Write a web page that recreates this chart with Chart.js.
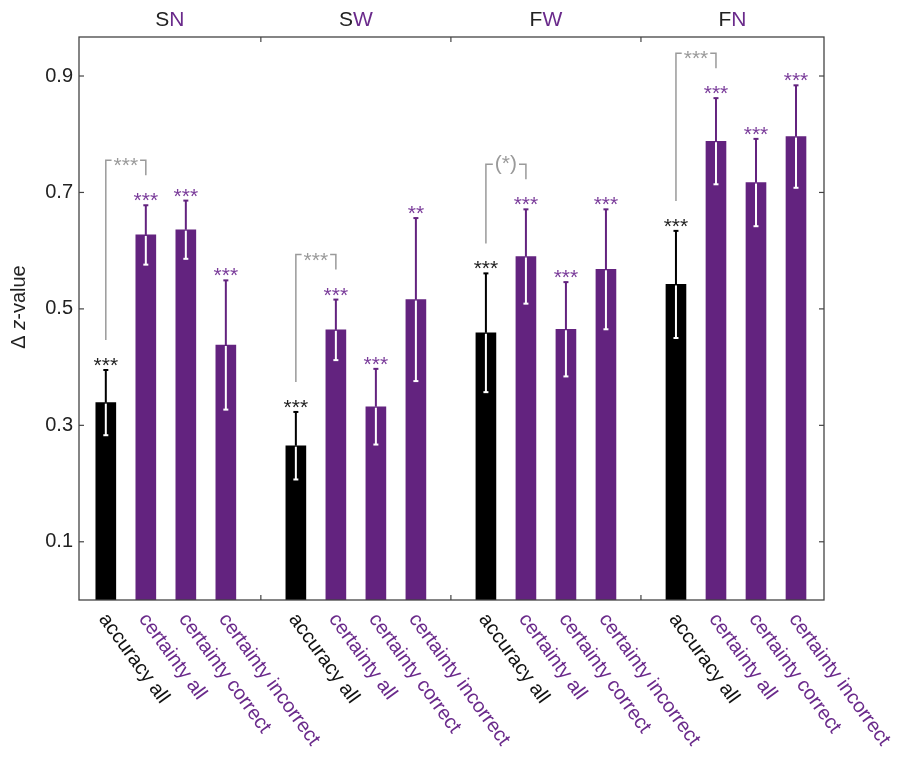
<!DOCTYPE html>
<html>
<head>
<meta charset="utf-8">
<script src="https://cdn.jsdelivr.net/npm/chart.js@4.4.1/dist/chart.umd.min.js"></script>
<style>
  html, body { margin: 0; padding: 0; background: #fff; }
  #wrap { width: 901px; height: 758px; }
</style>
</head>
<body>
<div id="wrap"><canvas id="chart"></canvas></div>
<script>
const groups = ["SN", "SW", "FW", "FN"];
const conditions = ["accuracy all", "certainty all", "certainty correct", "certainty incorrect"];

// mean Δ z-value per group (SN, SW, FW, FN)
const accuracyAll = [0.339, 0.265, 0.459, 0.542];
const certaintyAll = [0.627, 0.464, 0.590, 0.788];
const certaintyCorrect = [0.636, 0.332, 0.465, 0.717];
const certaintyIncorrect = [0.438, 0.516, 0.568, 0.796];

// error bar half widths
const accuracyAllErr = [0.056, 0.058, 0.102, 0.092];
const certaintyAllErr = [0.051, 0.052, 0.081, 0.074];
const certaintyCorrectErr = [0.050, 0.065, 0.081, 0.075];
const certaintyIncorrectErr = [0.111, 0.140, 0.103, 0.088];

// significance marks
const accuracyAllStars = ["***", "***", "***", "***"];
const certaintyAllStars = ["***", "***", "***", "***"];
const certaintyCorrectStars = ["***", "***", "***", "***"];
const certaintyIncorrectStars = ["***", "**", "***", "***"];
const bracketLabels = ["***", "***", "(*)", "***"];

const yTicks = [0.1, 0.3, 0.5, 0.7, 0.9];

const BLACK = "#000000";
const PURPLE = "#63237f";
const LABEL_PURPLE = "#6a2a8b";
const GRAY = "#9a9a9a";
const AXIS = "#444444";
const FONT = "'Liberation Sans', Arial, sans-serif";
const GROUP_STEP = 4.75;

const means = [accuracyAll, certaintyAll, certaintyCorrect, certaintyIncorrect];
const errs = [accuracyAllErr, certaintyAllErr, certaintyCorrectErr, certaintyIncorrectErr];
const stars = [accuracyAllStars, certaintyAllStars, certaintyCorrectStars, certaintyIncorrectStars];

const bars = [];
groups.forEach((g, gi) => {
  conditions.forEach((c, ci) => {
    bars.push({ x: gi * GROUP_STEP + ci, y: means[ci][gi], err: errs[ci][gi], star: stars[ci][gi], cond: ci, group: gi });
  });
});

function line(ctx, x1, y1, x2, y2) {
  ctx.beginPath();
  ctx.moveTo(x1, y1);
  ctx.lineTo(x2, y2);
  ctx.stroke();
}

const annotations = {
  id: "annotations",
  afterDatasetsDraw(chart) {
    const ctx = chart.ctx;
    const xs = chart.scales.x;
    const ys = chart.scales.y;
    const area = chart.chartArea;
    ctx.save();

    // error bars + stars
    bars.forEach((b) => {
      const px = xs.getPixelForValue(b.x);
      const top = ys.getPixelForValue(b.y + b.err);
      const mid = ys.getPixelForValue(b.y);
      const bot = ys.getPixelForValue(b.y - b.err);
      const col = b.cond === 0 ? BLACK : PURPLE;
      ctx.lineWidth = 2;
      ctx.strokeStyle = col;
      line(ctx, px, top, px, mid);
      line(ctx, px - 2.5, top, px + 2.5, top);
      ctx.strokeStyle = "#ffffff";
      line(ctx, px, mid + 1, px, bot);
      line(ctx, px - 2.5, bot, px + 2.5, bot);

      ctx.fillStyle = b.cond === 0 ? "#222" : "#7a3c9a";
      ctx.font = `21px ${FONT}`;
      ctx.textAlign = "center";
      ctx.textBaseline = "alphabetic";
      ctx.fillText(b.star, px, top + 2);
    });

    // brackets between accuracy all and certainty all
    groups.forEach((g, gi) => {
      const acc = bars[gi * 4];
      const cer = bars[gi * 4 + 1];
      const x1 = xs.getPixelForValue(acc.x);
      const x2 = xs.getPixelForValue(cer.x);
      const yAcc = ys.getPixelForValue(acc.y + acc.err) - 30;
      const yTop = ys.getPixelForValue(cer.y + cer.err) - 45;
      ctx.strokeStyle = GRAY;
      ctx.lineWidth = 1.5;
      ctx.beginPath();
      ctx.moveTo(x1, yAcc);
      ctx.lineTo(x1, yTop);
      ctx.lineTo(x2, yTop);
      ctx.lineTo(x2, yTop + 15);
      ctx.stroke();
      ctx.font = `21px ${FONT}`;
      const label = bracketLabels[gi];
      const w = ctx.measureText(label).width;
      const cx = (x1 + x2) / 2;
      ctx.fillStyle = "#ffffff";
      ctx.fillRect(cx - w / 2 - 2, yTop - 3, w + 4, 6);
      ctx.fillStyle = GRAY;
      ctx.textAlign = "center";
      ctx.textBaseline = "alphabetic";
      ctx.fillText(label, cx, yTop + (label === "(*)" ? 6 : 12));
    });

    // frame
    ctx.strokeStyle = AXIS;
    ctx.lineWidth = 1.3;
    ctx.strokeRect(area.left, area.top, area.right - area.left, area.bottom - area.top);

    // inward ticks
    ctx.lineWidth = 1.2;
    yTicks.forEach((v) => {
      const py = ys.getPixelForValue(v);
      line(ctx, area.left, py, area.left + 5, py);
      line(ctx, area.right, py, area.right - 5, py);
    });
    for (let gi = 1; gi < groups.length; gi++) {
      const px = xs.getPixelForValue(gi * GROUP_STEP - (GROUP_STEP - 3) / 2);
      line(ctx, px, area.top, px, area.top + 5);
      line(ctx, px, area.bottom, px, area.bottom - 5);
    }

    // group headers
    ctx.font = `21px ${FONT}`;
    ctx.textBaseline = "middle";
    ctx.textAlign = "left";
    groups.forEach((g, gi) => {
      const left = xs.getPixelForValue(gi * GROUP_STEP - (GROUP_STEP - 3) / 2);
      const right = xs.getPixelForValue(gi * GROUP_STEP + 3 + (GROUP_STEP - 3) / 2);
      const cx = (Math.max(left, area.left) + Math.min(right, area.right)) / 2;
      const w = ctx.measureText(g).width;
      const w0 = ctx.measureText(g[0]).width;
      ctx.fillStyle = "#222";
      ctx.fillText(g[0], cx - w / 2, 20);
      ctx.fillStyle = LABEL_PURPLE;
      ctx.fillText(g.slice(1), cx - w / 2 + w0, 20);
    });

    // rotated category labels
    ctx.font = `20px ${FONT}`;
    ctx.textAlign = "left";
    ctx.textBaseline = "top";
    bars.forEach((b) => {
      const px = xs.getPixelForValue(b.x);
      ctx.save();
      ctx.translate(px + 5, area.bottom + 10);
      ctx.rotate((54 * Math.PI) / 180);
      ctx.fillStyle = b.cond === 0 ? "#111" : LABEL_PURPLE;
      ctx.fillText(conditions[b.cond], 0, 0);
      ctx.restore();
    });

    // y axis title with italic z
    ctx.save();
    ctx.translate(19, 307);
    ctx.rotate(-Math.PI / 2);
    ctx.fillStyle = "#222";
    ctx.textBaseline = "middle";
    const parts = [["Δ ", `20px ${FONT}`], ["z", `italic 20px ${FONT}`], ["-value", `20px ${FONT}`]];
    let total = 0;
    parts.forEach(([t, f]) => { ctx.font = f; total += ctx.measureText(t).width; });
    let xx = -total / 2;
    parts.forEach(([t, f]) => {
      ctx.font = f;
      ctx.fillText(t, xx, 0);
      xx += ctx.measureText(t).width;
    });
    ctx.restore();

    ctx.restore();
  },
};

new Chart(document.getElementById("chart"), {
  type: "bar",
  data: {
    datasets: [
      {
        data: bars,
        backgroundColor: bars.map((b) => (b.cond === 0 ? BLACK : PURPLE)),
        borderWidth: 0,
        barThickness: 20,
      },
    ],
  },
  options: {
    responsive: true,
    maintainAspectRatio: false,
    animation: false,
    layout: { padding: { top: 37, right: 77, bottom: 158, left: 0 } },
    scales: {
      x: {
        type: "linear",
        display: false,
        offset: false,
        min: -0.67,
        max: 17.95,
      },
      y: {
        min: 0,
        max: 0.967,
        afterFit: (scale) => {
          scale.width = 79;
        },
        afterBuildTicks: (scale) => {
          scale.ticks = yTicks.map((v) => ({ value: v }));
        },
        grid: { display: false, drawTicks: false },
        border: { display: false },
        ticks: {
          color: "#222",
          padding: 6,
          font: { family: FONT, size: 20 },
          callback: (value) => value.toFixed(1),
        },
      },
    },
    plugins: {
      legend: { display: false },
      tooltip: { enabled: false },
    },
  },
  plugins: [annotations],
});
</script>
</body>
</html>
